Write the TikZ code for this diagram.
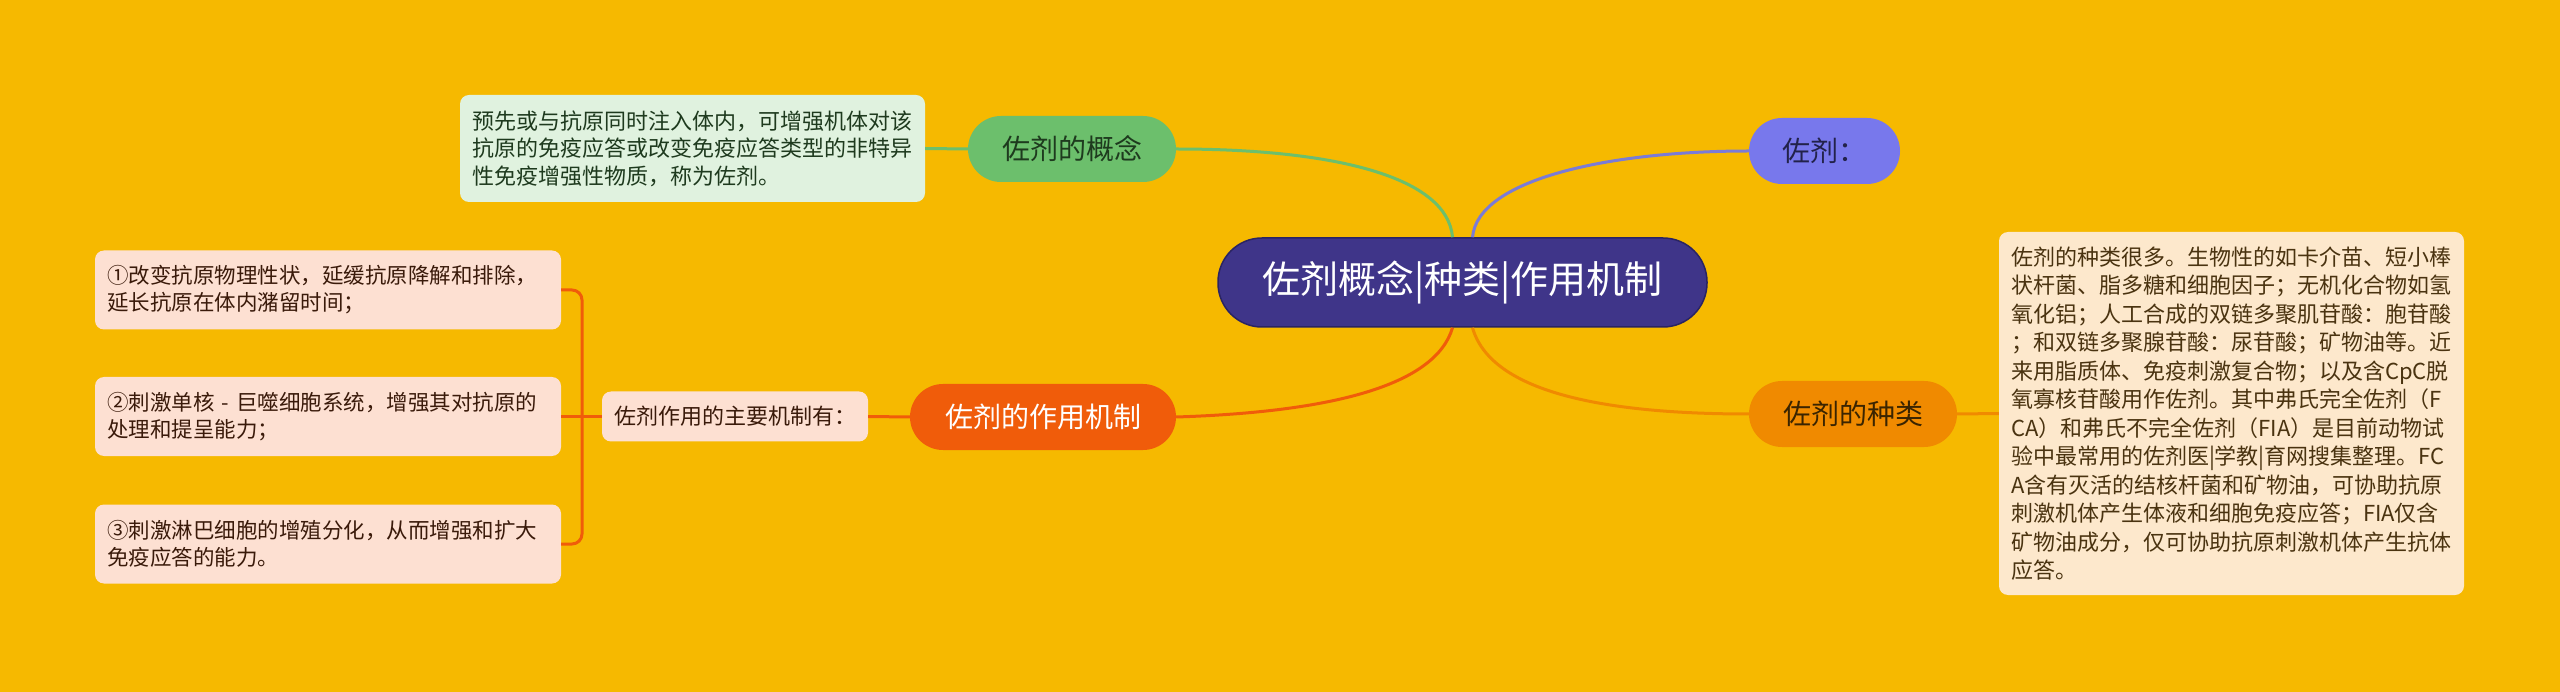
\documentclass[tikz,border=0pt]{standalone}
\usepackage{fontspec}
\setmainfont{Noto Sans CJK SC}
\definecolor{bgc}{HTML}{F6B900}
\definecolor{rootc}{HTML}{3F3589}
\definecolor{rootb}{HTML}{2A2463}
\definecolor{greenc}{HTML}{6CBF6C}
\definecolor{glight}{HTML}{E0F2DF}
\definecolor{gtext}{HTML}{1E3A1E}
\definecolor{bluec}{HTML}{7878EC}
\definecolor{blin}{HTML}{7B7BD6}
\definecolor{btext}{HTML}{22224A}
\definecolor{ambc}{HTML}{F08A00}
\definecolor{alight}{HTML}{FDE8CC}
\definecolor{atext}{HTML}{3A2400}
\definecolor{atext2}{HTML}{4A3310}
\definecolor{orc}{HTML}{F05C0A}
\definecolor{olight}{HTML}{FDE0D2}
\definecolor{otext}{HTML}{3A1A0A}
\begin{document}
\begin{tikzpicture}[x=1pt,y=-1pt,
  pill/.style={rounded corners=33pt, minimum height=66pt, inner sep=0pt, font=\fontsize{28}{32}\selectfont},
  tbox/.style={rounded corners=9pt, align=left, inner xsep=12pt, inner ysep=0pt, font=\fontsize{22}{27.5}\selectfont},
  lbox/.style={tbox, fill=olight, text=otext, text width=442pt, minimum height=79pt, font=\fontsize{21.5}{27}\selectfont},
  conn/.style={line width=3pt},
]
\fill[bgc] (0,0) rectangle (2560,692);
\useasboundingbox (0,0) rectangle (2560,692);

% nodes
\node[fill=rootc, draw=rootb, line width=1.5pt, rounded corners=44pt, minimum width=489pt, minimum height=89pt, inner sep=0pt, text=white, font=\fontsize{38}{40}\selectfont] (root) at (1462.5,282.5) {佐剂概念|种类|作用机制};

\node[pill, fill=greenc, minimum width=208pt, text=gtext] (concept) at (1072,149) {佐剂的概念};
\node[tbox, fill=glight, text=gtext, text width=441pt, minimum height=107pt] (cdef) at (692.5,148.5) {预先或与抗原同时注入体内，可增强机体对该\\抗原的免疫应答或改变免疫应答类型的非特异\\性免疫增强性物质，称为佐剂。};

\node[pill, fill=bluec, minimum width=151pt, text=btext] (adj) at (1824.5,151) {佐剂：};

\node[pill, fill=ambc, minimum width=208pt, text=atext] (kind) at (1853,414) {佐剂的种类};
\node[tbox, fill=alight, text=atext2, text width=441pt, minimum height=363pt, font=\fontsize{22}{28.5}\selectfont] (kdef) at (2231.5,413.5) {佐剂的种类很多。生物性的如卡介苗、短小棒\\状杆菌、脂多糖和细胞因子；无机化合物如氢\\氧化铝；人工合成的双链多聚肌苷酸：胞苷酸\\；和双链多聚腺苷酸：尿苷酸；矿物油等。近\\来用脂质体、免疫刺激复合物；以及含CpC脱\\氧寡核苷酸用作佐剂。其中弗氏完全佐剂（F\\CA）和弗氏不完全佐剂（FIA）是目前动物试\\验中最常用的佐剂医|学教|育网搜集整理。FC\\A含有灭活的结核杆菌和矿物油，可协助抗原\\刺激机体产生体液和细胞免疫应答；FIA仅含\\矿物油成分，仅可协助抗原刺激机体产生抗体\\应答。};

\node[pill, fill=orc, minimum width=266pt, text=white] (act) at (1043,417) {佐剂的作用机制};
\node[tbox, fill=olight, text=otext, minimum width=266pt, minimum height=50pt] (mech) at (735,416.5) {佐剂作用的主要机制有：};

\node[lbox] (b1) at (328,290) {①改变抗原物理性状，延缓抗原降解和排除，\\延长抗原在体内潴留时间；};
\node[lbox] (b2) at (328,416.5) {②刺激单核 - 巨噬细胞系统，增强其对抗原的\\处理和提呈能力；};
\node[lbox] (b3) at (328,544) {③刺激淋巴细胞的增殖分化，从而增强和扩大\\免疫应答的能力。};

\coordinate (bar) at (582,0);

% connectors
\draw[conn, greenc] ([xshift=-10pt]root.north) .. controls ([xshift=-15pt,yshift=60pt]root.north) and ([xshift=160pt]concept.east) .. (concept.east);
\draw[conn, blin] ([xshift=10pt]root.north) .. controls ([xshift=15pt,yshift=58pt]root.north) and ([xshift=-140pt]adj.west) .. (adj.west);
\draw[conn, orc] ([xshift=-10pt]root.south) .. controls ([xshift=-27pt,yshift=-58pt]root.south) and ([xshift=155pt,yshift=5pt]act.east) .. (act.east);
\draw[conn, ambc] ([xshift=10pt]root.south) .. controls ([xshift=28pt,yshift=-63pt]root.south) and ([xshift=-150pt]kind.west) .. (kind.west);

\draw[conn, greenc] (concept.west) -- (cdef.east);
\draw[conn, ambc] (kind.east) -- (kdef.west);
\draw[conn, orc] (act.west) -- (mech.east);
\draw[conn, orc] (mech.west) -- (b2.east);
\draw[conn, orc, rounded corners=10pt] (b1.east) -- (b1.east -| bar) -- (b3.east -| bar) -- (b3.east);
\end{tikzpicture}
\end{document}
